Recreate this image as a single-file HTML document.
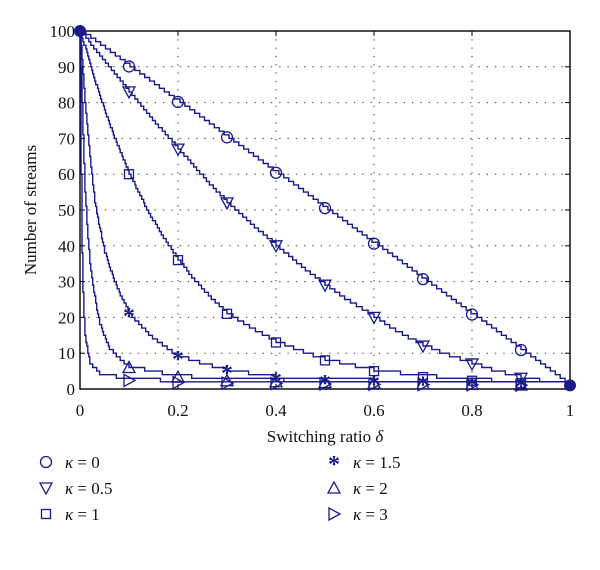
<!DOCTYPE html>
<html><head><meta charset="utf-8"><style>
body{margin:0;background:#fff;}
svg text{font-family:"Liberation Serif",serif;fill:#111;}
</style></head><body>
<svg id="s" width="600" height="565" xmlns="http://www.w3.org/2000/svg"></svg>
<script>
const X0=80,X1=570,Y0=389,Y1=31;
const sx=d=>X0+(X1-X0)*d, sy=v=>Y0-(Y0-Y1)*v/100;
let h='';
for(let i=1;i<5;i++){h+=`<line x1="${sx(i*0.2)}" y1="${Y1}" x2="${sx(i*0.2)}" y2="${Y0}" stroke="#333" stroke-dasharray="1.3,7"/>`;}
for(let v=0;v<100;v+=10){h+=`<line x1="${X0}" y1="${sy(v)}" x2="${X1}" y2="${sy(v)}" stroke="#333" stroke-dasharray="1.3,7"/>`;}
h+=`<rect x="${X0}" y="${Y1}" width="${X1-X0}" height="${Y0-Y1}" fill="none" stroke="#000" stroke-width="1.4"/>`;
for(let i=0;i<=5;i++){let x=sx(i*0.2);h+=`<line x1="${x}" y1="${Y0}" x2="${x}" y2="${Y0-5}" stroke="#000"/><line x1="${x}" y1="${Y1}" x2="${x}" y2="${Y1+5}" stroke="#000"/>`;
 h+=`<text x="${x}" y="${Y0+27}" font-size="17" text-anchor="middle">${i==0?'0':i==5?'1':(i*0.2).toFixed(1)}</text>`;}
for(let v=0;v<=100;v+=10){let y=sy(v);h+=`<line x1="${X0}" y1="${y}" x2="${X0+5}" y2="${y}" stroke="#000"/><line x1="${X1}" y1="${y}" x2="${X1-5}" y2="${y}" stroke="#000"/>`;
 h+=`<text x="${X0-5}" y="${y+6}" font-size="17" text-anchor="end">${v}</text>`;}
h+=`<text x="325" y="442" font-size="17" text-anchor="middle">Switching ratio <tspan font-style="italic">δ</tspan></text>`;
h+=`<text transform="translate(36,210) rotate(-90)" font-size="17" text-anchor="middle">Number of streams</text>`;
const T=[
[[0,100],[1,1]],
[[0,100],[.1,83],[.2,67],[.3,52],[.4,40],[.5,29],[.6,20],[.7,12],[.8,7],[.9,3],[1,1]],
[[0,100],[.1,60],[.2,36],[.3,21],[.4,13],[.5,8],[.6,5],[.7,3.3],[.8,2.3],[.9,1.6],[1,1]],
[[0,100],[.01,80],[.03,52],[.05,38],[.1,21],[.2,9],[.3,5],[.4,3],[.5,2.3],[.6,2],[.7,1.8],[.8,1.5],[.9,1.3],[1,1]],
[[0,100],[.005,75],[.01,55],[.02,35],[.04,18],[.06,11],[.1,6],[.2,3.3],[.3,2.3],[.5,1.8],[.8,1.3],[1,1]],
[[0,100],[.002,60],[.005,30],[.01,15],[.02,7],[.04,4],[.1,2.4],[.2,1.8],[.5,1.4],[1,1]]];
function f(t,d){for(let i=1;i<t.length;i++){if(d<=t[i][0]){let a=t[i-1],b=t[i],u=(d-a[0])/(b[0]-a[0]);
 if(t.length==2)return a[1]+(b[1]-a[1])*u;return Math.exp(Math.log(a[1])+(Math.log(b[1])-Math.log(a[1]))*u);}}return 1;}
const C='#1a1a8c';
function mk(k,x,y){const r=6;
 if(k==0)return `<circle cx="${x}" cy="${y}" r="5.5" fill="none" stroke="${C}" stroke-width="1.3"/>`;
 if(k==1)return `<polygon points="${x-r},${y-r+1} ${x+r},${y-r+1} ${x},${y+r}" fill="none" stroke="${C}" stroke-width="1.3"/>`;
 if(k==2)return `<rect x="${x-4.5}" y="${y-4.5}" width="9" height="9" fill="none" stroke="${C}" stroke-width="1.3"/>`;
 if(k==3)return `<text x="${x}" y="${y+10}" font-size="24" font-weight="bold" text-anchor="middle" style="fill:${C}">*</text>`;
 if(k==4)return `<polygon points="${x-r},${y+r-1} ${x+r},${y+r-1} ${x},${y-r}" fill="none" stroke="${C}" stroke-width="1.3"/>`;
 return `<polygon points="${x-r+1},${y-r} ${x-r+1},${y+r} ${x+r},${y}" fill="none" stroke="${C}" stroke-width="1.3"/>`;}
T.forEach((t,k)=>{let p=`M${sx(0)},${sy(100)}`;let prev=100;
 for(let d=0.002;d<=1.0001;d+=0.002){let v=Math.max(1,Math.ceil(f(t,d)-1e-9));if(v!=prev){p+=`H${sx(d).toFixed(1)}V${sy(v).toFixed(1)}`;prev=v;}}
 p+=`H${sx(1)}`;
 h+=`<path d="${p}" fill="none" stroke="${C}" stroke-width="1.4"/>`;
 for(let i=1;i<=9;i++){let d=i/10;h+=mk(k,sx(d),sy(f(t,d)));}
});
h+=`<circle cx="${sx(0)}" cy="${sy(100)}" r="6" fill="${C}"/><circle cx="${sx(1)}" cy="${sy(1)}" r="6" fill="${C}"/>`;
const L=['0','0.5','1','1.5','2','3'];
L.forEach((l,k)=>{let col=k<3?0:1,row=k%3;let mx=col?334:46,y=462+row*26;
 h+=mk(k,mx,y);h+=`<text x="${mx+19}" y="${y+6}" font-size="17"><tspan font-style="italic">κ</tspan> = ${l}</text>`;});
document.getElementById('s').innerHTML=h;
</script>
</body></html>
